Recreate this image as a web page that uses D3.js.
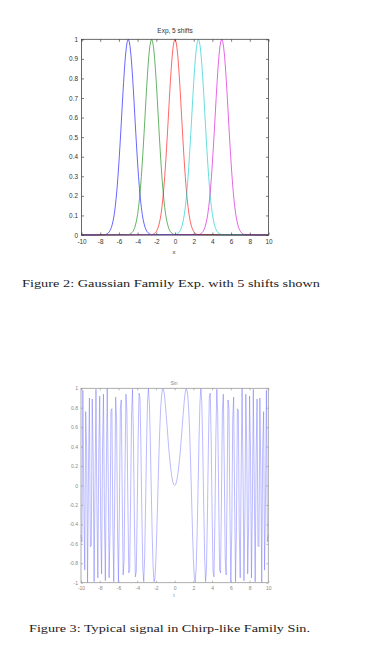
<!DOCTYPE html>
<html><head><meta charset="utf-8">
<script src="https://cdn.jsdelivr.net/npm/d3@7"></script>
<style>html,body{margin:0;padding:0;background:#fff;} svg{display:block;}</style>
</head><body>
<svg id="c" width="375" height="649"></svg>
<script>
// ---------- data: Figure 2 (Gaussian family) ----------
const gaussTitle = "Exp, 5 shifts";
const gaussXLabel = "x";
const gaussShifts = [-5, -2.5, 0, 2.5, 5];
const gaussColors = ["#0000ff", "#008000", "#ff0000", "#00c8c8", "#d200d2"];
const gaussOffsetStart = -2.5, gaussOffsetStep = 0.1;
const gaussProfile = [0.002,0.003,0.005,0.008,0.012,0.018,0.027,0.039,0.056,0.077,
  0.105,0.141,0.185,0.237,0.298,0.368,0.445,0.527,0.613,0.698,
  0.779,0.852,0.914,0.961,0.990,1.000,0.990,0.961,0.914,0.852,
  0.779,0.698,0.613,0.527,0.445,0.368,0.298,0.237,0.185,0.141,
  0.105,0.077,0.056,0.039,0.027,0.018,0.012,0.008,0.005,0.003,0.002];
const xTicks = [-10, -8, -6, -4, -2, 0, 2, 4, 6, 8, 10];
const gaussYTicks = [0, 0.1, 0.2, 0.3, 0.4, 0.5, 0.6, 0.7, 0.8, 0.9, 1];

// ---------- data: Figure 3 (chirp-like signal) ----------
const chirpTitle = "Sin";
const chirpXLabel = "t";
const chirpStart = -10, chirpStep = 0.1;
const chirpValues = [
  -0.51,-0.58,0.98,-0.16,-0.87,0.76,0.39,-1.00,0.18,0.90,
  -0.63,-0.62,0.89,0.29,-0.99,0.01,0.99,-0.22,-0.95,0.36,
  0.92,-0.41,-0.91,0.39,0.94,-0.29,-0.98,0.12,1.00,0.14,
  -0.95,-0.47,0.77,0.79,-0.41,-0.99,-0.12,0.91,0.67,-0.47,
  -0.99,-0.25,0.79,0.88,-0.06,-0.92,-0.77,0.18,0.94,0.77,
  -0.13,-0.90,-0.87,-0.10,0.74,0.99,0.49,-0.35,-0.94,-0.89,
  -0.29,0.48,0.95,0.90,0.38,-0.31,-0.85,-0.99,-0.73,-0.18,
  0.41,0.85,1.00,0.85,0.46,-0.03,-0.50,-0.84,-0.99,-0.95,
  -0.76,-0.45,-0.10,0.25,0.55,0.78,0.92,0.99,0.99,0.94,
  0.84,0.72,0.60,0.47,0.35,0.25,0.16,0.09,0.04,0.01,
  0.00,
  0.01,0.04,0.09,0.16,0.25,0.35,0.47,0.60,0.72,0.84,
  0.94,0.99,0.99,0.92,0.78,0.55,0.25,-0.10,-0.45,-0.76,
  -0.95,-0.99,-0.84,-0.50,-0.03,0.46,0.85,1.00,0.85,0.41,
  -0.18,-0.73,-0.99,-0.85,-0.31,0.38,0.90,0.95,0.48,-0.29,
  -0.89,-0.94,-0.35,0.49,0.99,0.74,-0.10,-0.87,-0.90,-0.13,
  0.77,0.94,0.18,-0.77,-0.92,-0.06,0.88,0.79,-0.25,-0.99,
  -0.47,0.67,0.91,-0.12,-0.99,-0.41,0.79,0.77,-0.47,-0.95,
  0.14,1.00,0.12,-0.98,-0.29,0.94,0.39,-0.91,-0.41,0.92,
  0.36,-0.95,-0.22,0.99,0.01,-0.99,0.29,0.89,-0.62,-0.63,
  0.90,0.18,-1.00,0.39,0.76,-0.87,-0.16,0.98,-0.58,-0.51];
const chirpYTicks = [-1, -0.8, -0.6, -0.4, -0.2, 0, 0.2, 0.4, 0.6, 0.8, 1];

const captions = ["Figure 2: Gaussian Family Exp. with 5 shifts shown",
                  "Figure 3: Typical signal in Chirp-like Family Sin."];

// ---------- drawing ----------
const svg = d3.select("#c");
svg.append("rect").attr("width", 375).attr("height", 649).attr("fill", "#fff");

function frame(g, x, y, xt, yt, o) {
  const [x0, x1] = x.range(), [y0, y1] = y.range();
  const fmt = d => String(d);
  const bx = g.append("g").attr("transform", `translate(0,${y0})`)
    .call(d3.axisBottom(x).tickValues(xt).tickSizeInner(-o.tick).tickSizeOuter(0).tickPadding(o.padX).tickFormat(fmt));
  const tx = g.append("g").attr("transform", `translate(0,${y1})`)
    .call(d3.axisTop(x).tickValues(xt).tickSizeInner(-o.tick).tickSizeOuter(0).tickFormat(""));
  const ly = g.append("g").attr("transform", `translate(${x0},0)`)
    .call(d3.axisLeft(y).tickValues(yt).tickSizeInner(-o.tick).tickSizeOuter(0).tickPadding(o.padY).tickFormat(fmt));
  const ry = g.append("g").attr("transform", `translate(${x1},0)`)
    .call(d3.axisRight(y).tickValues(yt).tickSizeInner(-o.tick).tickSizeOuter(0).tickFormat(""));
  [bx, tx, ly, ry].forEach(a => {
    a.select(".domain").remove();
    a.selectAll("line").attr("stroke", o.axis).attr("stroke-width", 0.7);
    a.selectAll("text").attr("fill", o.text).style("font-family", "'Liberation Sans', Arial, sans-serif")
      .style("font-size", o.fs + "px");
  });
  g.append("rect").attr("x", x0).attr("y", y1).attr("width", x1 - x0).attr("height", y0 - y1)
    .attr("fill", "none").attr("stroke", o.axis).attr("stroke-width", 0.8);
}

// Figure 2
const g1 = svg.append("g");
const x1s = d3.scaleLinear().domain([-10, 10]).range([81.5, 268.5]);
const y1s = d3.scaleLinear().domain([0, 1]).range([235, 39.3]);
const line1 = d3.line().x(d => x1s(d[0])).y(d => y1s(d[1]));
gaussShifts.forEach((s, k) => {
  const pts = [[-10, 0]].concat(gaussProfile.map((v, i) => [s + gaussOffsetStart + i * gaussOffsetStep, v]), [[10, 0]]);
  g1.append("path").datum(pts).attr("d", line1).attr("fill", "none")
    .attr("stroke", gaussColors[k]).attr("stroke-width", 0.8).attr("stroke-opacity", 0.75);
});
frame(g1, x1s, y1s, xTicks, gaussYTicks, {tick: 2.5, padX: 4, padY: 3.5, axis: "#444", text: "#333", fs: 6.4});
g1.append("text").attr("x", 175).attr("y", 33).attr("text-anchor", "middle")
  .style("font-family", "'Liberation Sans', Arial, sans-serif").style("font-size", "6.5px").attr("fill", "#333").text(gaussTitle);
g1.append("text").attr("x", 174).attr("y", 254).attr("text-anchor", "middle")
  .style("font-family", "'Liberation Sans', Arial, sans-serif").style("font-size", "6px").attr("fill", "#333").text(gaussXLabel);

// Figure 3
const g2 = svg.append("g");
const x2s = d3.scaleLinear().domain([-10, 10]).range([81, 268.3]);
const y2s = d3.scaleLinear().domain([-1, 1]).range([582.7, 388.3]);
const line2 = d3.line().x((d, i) => x2s(chirpStart + i * chirpStep)).y(d => y2s(d));
g2.append("path").datum(chirpValues).attr("d", line2).attr("fill", "none")
  .attr("stroke", "#6a6aff").attr("stroke-width", 0.7).attr("stroke-opacity", 0.65);
frame(g2, x2s, y2s, xTicks, chirpYTicks, {tick: 2, padX: 3.5, padY: 3, axis: "#999", text: "#888", fs: 5});
g2.append("text").attr("x", 174).attr("y", 385).attr("text-anchor", "middle")
  .style("font-family", "'Liberation Sans', Arial, sans-serif").style("font-size", "5px").attr("fill", "#888").text(chirpTitle);
g2.append("text").attr("x", 174).attr("y", 597).attr("text-anchor", "middle")
  .style("font-family", "'Liberation Sans', Arial, sans-serif").style("font-size", "5px").attr("fill", "#888").text(chirpXLabel);

// captions
const capPos = [[22, 287, 298], [29, 632, 281]];
captions.forEach((c, i) => {
  svg.append("text").attr("x", capPos[i][0]).attr("y", capPos[i][1])
    .attr("textLength", capPos[i][2]).attr("lengthAdjust", "spacingAndGlyphs")
    .style("font-family", "'Liberation Serif', 'Times New Roman', serif").style("font-size", "11px")
    .attr("fill", "#222").text(c);
});
</script>
</body></html>
